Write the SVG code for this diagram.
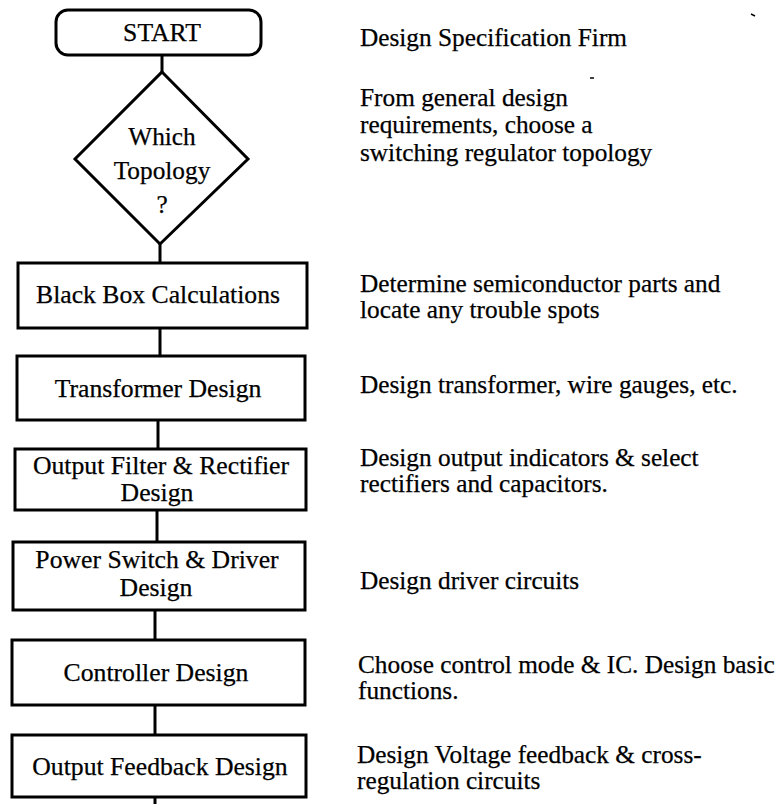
<svg xmlns="http://www.w3.org/2000/svg" width="778" height="804" viewBox="0 0 778 804">
  <style>
    .shape { fill: #ffffff; stroke: #000000; stroke-width: 3; }
    .wire { stroke: #000000; stroke-width: 3; fill: none; }
    .lbl { font-family: "Liberation Serif", "Times New Roman", serif; font-size: 25.3px; fill: #000000; stroke: #000000; stroke-width: 0.25; }
    .box { font-size: 25.7px; }
    .mid { text-anchor: middle; }
    .speck { stroke: #000000; stroke-width: 1.5; }
  </style>
  <rect width="778" height="804" fill="#ffffff"/>

  <!-- flow connectors -->
  <g id="connectors">
    <line class="wire" x1="162" y1="55" x2="162" y2="72"/>
    <line class="wire" x1="160" y1="244" x2="160" y2="263"/>
    <line class="wire" x1="160" y1="328" x2="160" y2="356"/>
    <line class="wire" x1="158" y1="420" x2="158" y2="449"/>
    <line class="wire" x1="157" y1="510" x2="157" y2="542"/>
    <line class="wire" x1="155" y1="610" x2="155" y2="640"/>
    <line class="wire" x1="155" y1="705" x2="155" y2="735"/>
    <line class="wire" x1="155" y1="797" x2="155" y2="804"/>
  </g>

  <g id="start">
    <rect class="shape" x="56" y="10" width="205" height="45" rx="12" ry="12"/>
    <text class="lbl box mid" x="162" y="41">START</text>
  </g>

  <g id="topology">
    <polygon class="shape" points="162,72 248,159 160,244 75,159"/>
    <text class="lbl mid" x="162" y="145">Which</text>
    <text class="lbl mid" x="162" y="179">Topology</text>
    <text class="lbl mid" x="162" y="213">?</text>
  </g>

  <g id="black-box">
    <rect class="shape" x="18" y="263" width="289" height="65"/>
    <text class="lbl box mid" x="158" y="303">Black Box Calculations</text>
  </g>

  <g id="transformer">
    <rect class="shape" x="17" y="356" width="288" height="64"/>
    <text class="lbl box mid" x="158" y="397">Transformer Design</text>
  </g>

  <g id="output-filter">
    <rect class="shape" x="15" y="449" width="291" height="61"/>
    <text class="lbl box mid" x="161" y="474">Output Filter &amp; Rectifier</text>
    <text class="lbl box mid" x="157" y="501">Design</text>
  </g>

  <g id="power-switch">
    <rect class="shape" x="13" y="542" width="292" height="68"/>
    <text class="lbl box mid" x="157" y="568">Power Switch &amp; Driver</text>
    <text class="lbl box mid" x="156" y="596">Design</text>
  </g>

  <g id="controller">
    <rect class="shape" x="12" y="640" width="293" height="65"/>
    <text class="lbl box mid" x="156" y="681">Controller Design</text>
  </g>

  <g id="output-feedback">
    <rect class="shape" x="12" y="735" width="294" height="62"/>
    <text class="lbl box mid" x="160" y="775">Output Feedback Design</text>
  </g>

  <!-- step descriptions -->
  <g id="notes">
    <text class="lbl" x="360" y="46">Design Specification Firm</text>
    <text class="lbl" x="360" y="106">From general design</text>
    <text class="lbl" x="360" y="133">requirements, choose a</text>
    <text class="lbl" x="360" y="161">switching regulator topology</text>
    <text class="lbl" x="360" y="292">Determine semiconductor parts and</text>
    <text class="lbl" x="360" y="318">locate any trouble spots</text>
    <text class="lbl" x="360" y="393">Design transformer, wire gauges, etc.</text>
    <text class="lbl" x="360" y="466">Design output indicators &amp; select</text>
    <text class="lbl" x="360" y="492">rectifiers and capacitors.</text>
    <text class="lbl" x="360" y="589">Design driver circuits</text>
    <text class="lbl" x="358" y="673">Choose control mode &amp; IC. Design basic</text>
    <text class="lbl" x="358" y="699">functions.</text>
    <text class="lbl" x="357" y="763">Design Voltage feedback &amp; cross-</text>
    <text class="lbl" x="357" y="789">regulation circuits</text>
  </g>

  <!-- stray print marks -->
  <line class="speck" x1="590" y1="78" x2="594" y2="78"/>
  <line class="speck" x1="751" y1="14" x2="755" y2="16"/>
</svg>
